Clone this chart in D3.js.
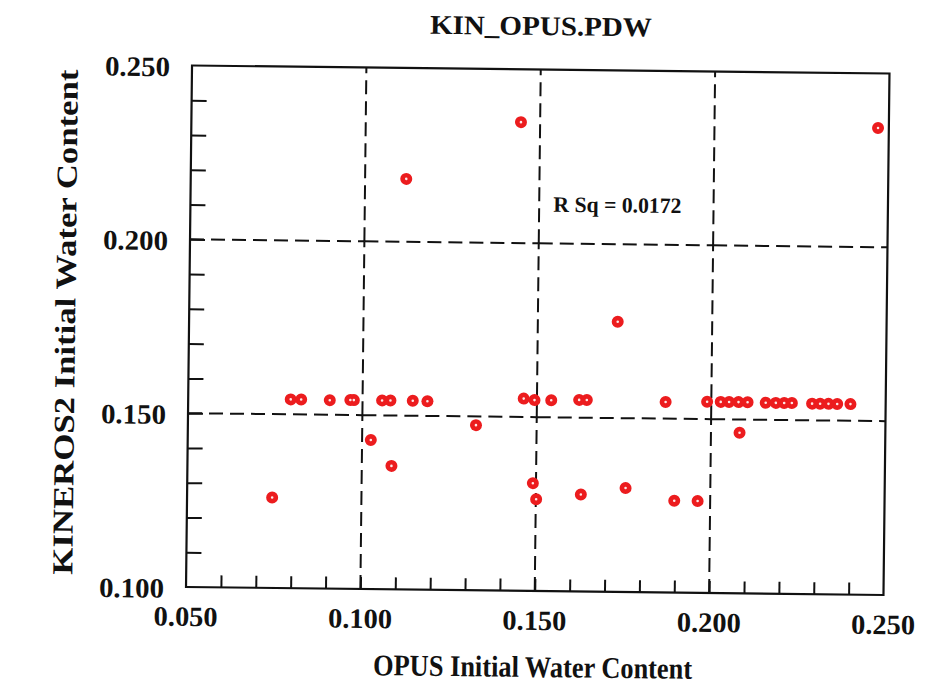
<!DOCTYPE html>
<html>
<head>
<meta charset="utf-8">
<script src="https://cdn.jsdelivr.net/npm/d3@7/dist/d3.min.js"></script>
<style>
  html, body { margin: 0; padding: 0; background: #ffffff; }
  text { font-family: "Liberation Serif", "Times New Roman", serif; font-weight: bold; fill: #111; }
</style>
</head>
<body>
<svg id="chart" width="935" height="687"></svg>
<script>
// ---- Data ----
const title = "KIN_OPUS.PDW";
const xLabel = "OPUS Initial Water Content";
const yLabel = "KINEROS2 Initial Water Content";
const rsqText = "R Sq = 0.0172";

const xTickValues = [0.05, 0.10, 0.15, 0.20, 0.25];
const xTickLabels = ["0.050", "0.100", "0.150", "0.200", "0.250"];
const yTickValues = [0.10, 0.15, 0.20, 0.25];
const yTickLabels = ["0.100", "0.150", "0.200", "0.250"];
const xGrid = [0.10, 0.15, 0.20];
const yGrid = [0.15, 0.20];

const opusWC = [
  0.0794, 0.0824, 0.0906, 0.0965, 0.0975, 0.1056, 0.1080, 0.1144, 0.1186,
  0.1326, 0.1025, 0.1085, 0.0744, 0.1118, 0.1445,
  0.1462, 0.1493, 0.1541, 0.1621, 0.1643, 0.1869,
  0.1491, 0.1501, 0.1629, 0.1757, 0.1897, 0.1964, 0.1729,
  0.1988, 0.2027, 0.2051, 0.2078, 0.2104,
  0.2156, 0.2185, 0.2209, 0.2231,
  0.2289, 0.2312, 0.2336, 0.2361, 0.2399,
  0.2082, 0.2469
];
const kinerosWC = [
  0.1543, 0.1543, 0.1542, 0.1543, 0.1543, 0.1543, 0.1543, 0.1543, 0.1542,
  0.1475, 0.1429, 0.1355, 0.1260, 0.2181, 0.2348,
  0.1553, 0.1549, 0.1549, 0.1551, 0.1551, 0.1548,
  0.1310, 0.1264, 0.1279, 0.1299, 0.1264, 0.1264, 0.1777,
  0.1550, 0.1550, 0.1550, 0.1550, 0.1550,
  0.1549, 0.1549, 0.1549, 0.1549,
  0.1548, 0.1548, 0.1548, 0.1548, 0.1548,
  0.1462, 0.2343
];

// ---- Layout ----
const L = 189, R = 886.5, T = 69.5, B = 591;
const svg = d3.select("#chart");
svg.append("rect").attr("width", 935).attr("height", 687).attr("fill", "#ffffff");

// whole scanned page is slightly tilted
const g = svg.append("g").attr("transform", "rotate(0.66, 537.5, 330)");

const x = d3.scaleLinear().domain([0.05, 0.25]).range([L, R]);
const y = d3.scaleLinear().domain([0.10, 0.25]).range([B, T]);

const ink = "#111";

// dashed reference grid, drawn cell-segment by cell-segment
const xBreaks = [0.05].concat(xGrid).concat([0.25]);
const yBreaks = [0.10].concat(yGrid).concat([0.25]);
yGrid.forEach(v => {
  for (let i = 0; i < xBreaks.length - 1; i++) {
    g.append("line")
      .attr("x1", x(xBreaks[i])).attr("x2", x(xBreaks[i + 1]))
      .attr("y1", y(v)).attr("y2", y(v))
      .attr("stroke", ink).attr("stroke-width", 2)
      .attr("stroke-dasharray", "14,7");
  }
});
xGrid.forEach(v => {
  for (let i = 0; i < yBreaks.length - 1; i++) {
    g.append("line")
      .attr("x1", x(v)).attr("x2", x(v))
      .attr("y1", y(yBreaks[i])).attr("y2", y(yBreaks[i + 1]))
      .attr("stroke", ink).attr("stroke-width", 2)
      .attr("stroke-dasharray", "14,7");
  }
});

// axes with inward minor ticks every 0.01
const xAxis = d3.axisBottom(x)
  .tickValues(d3.range(6, 25).map(d => d / 100))
  .tickSize(-12).tickFormat("");
const gx = g.append("g").attr("transform", `translate(0,${B})`).call(xAxis);
gx.select(".domain").remove();
gx.selectAll(".tick line").attr("stroke", ink).attr("stroke-width", 2);

const yAxis = d3.axisLeft(y)
  .tickValues(d3.range(11, 25).map(d => d / 100))
  .tickSize(-15).tickFormat("");
const gy = g.append("g").attr("transform", `translate(${L},0)`).call(yAxis);
gy.select(".domain").remove();
gy.selectAll(".tick line").attr("stroke", ink).attr("stroke-width", 2);

// frame
g.append("rect")
  .attr("x", L).attr("y", T).attr("width", R - L).attr("height", B - T)
  .attr("fill", "none").attr("stroke", ink).attr("stroke-width", 2.2);

// tick labels
g.selectAll(".xtl").data(xTickValues).enter().append("text")
  .attr("class", "xtl")
  .attr("x", d => x(d)).attr("y", B + 39)
  .attr("text-anchor", "middle")
  .attr("font-size", 28)
  .attr("textLength", 64).attr("lengthAdjust", "spacingAndGlyphs")
  .text((d, i) => xTickLabels[i]);

g.selectAll(".ytl").data(yTickValues).enter().append("text")
  .attr("class", "ytl")
  .attr("x", L - 22).attr("y", d => y(d) + 11)
  .attr("text-anchor", "end")
  .attr("font-size", 28)
  .attr("textLength", 65).attr("lengthAdjust", "spacingAndGlyphs")
  .text((d, i) => yTickLabels[i]);

// titles
g.append("text")
  .attr("x", 537.5).attr("y", 35)
  .attr("text-anchor", "middle").attr("font-size", 27)
  .attr("textLength", 222).attr("lengthAdjust", "spacingAndGlyphs")
  .text(title);

g.append("text")
  .attr("x", 536.5).attr("y", 677)
  .attr("text-anchor", "middle").attr("font-size", 30)
  .attr("textLength", 319).attr("lengthAdjust", "spacingAndGlyphs")
  .text(xLabel);

g.append("text")
  .attr("transform", "translate(75,327.5) rotate(-90)")
  .attr("text-anchor", "middle").attr("font-size", 29)
  .attr("textLength", 505).attr("lengthAdjust", "spacingAndGlyphs")
  .text(yLabel);

g.append("text")
  .attr("x", 552).attr("y", 211.5)
  .attr("font-size", 22)
  .attr("textLength", 128).attr("lengthAdjust", "spacingAndGlyphs")
  .text(rsqText);

// points: solid red dots with a tiny light centre
const pts = opusWC.map((v, i) => ({ x: v, y: kinerosWC[i] }));
const pg = g.append("g");
pg.selectAll("circle.o").data(pts).enter().append("circle")
  .attr("class", "o")
  .attr("cx", d => x(d.x)).attr("cy", d => y(d.y))
  .attr("r", 6)
  .attr("fill", "#ec1c1e");
pg.selectAll("circle.i").data(pts).enter().append("circle")
  .attr("class", "i")
  .attr("cx", d => x(d.x)).attr("cy", d => y(d.y))
  .attr("r", 1.3)
  .attr("fill", "#fde8e8");
</script>
</body>
</html>
